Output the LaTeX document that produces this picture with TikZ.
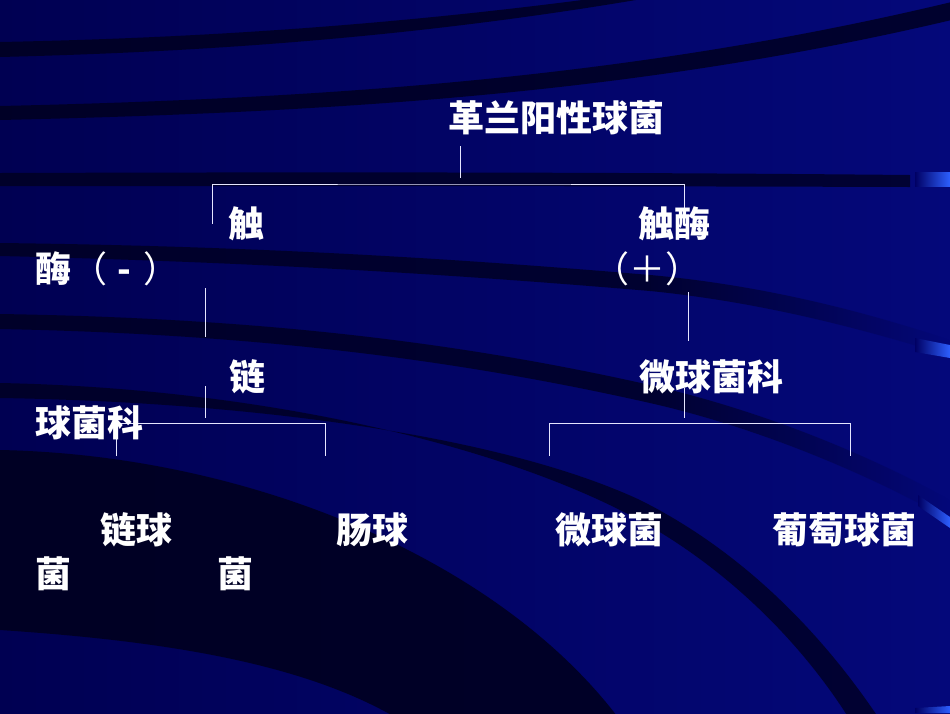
\documentclass[tikz,border=0pt]{standalone}
\usepackage{fontspec}
\usetikzlibrary{fadings}
\newfontfamily\cjk{Noto Sans CJK SC}
\definecolor{slidebg}{RGB}{0,0,100}
\definecolor{slideleft}{RGB}{0,0,82}
\definecolor{slideright}{RGB}{4,8,122}
\definecolor{slidedark}{RGB}{0,0,28}
\definecolor{slideblue}{RGB}{45,95,255}

\begin{document}
\begin{tikzpicture}[x=1pt, y=-1pt,
    taxon/.style={anchor=base west, inner sep=0pt, outer sep=0pt, text=white, font=\cjk\bfseries\fontsize{36}{45}\selectfont},
    branch/.style={draw=white!90!blue, line width=1pt},
    swoosh/.style={fill=slidedark, opacity=#1},
    tail/.style={fill=slidedark, opacity=#1, path fading=east},
    glint/.style={left color=slidebg, right color=slideblue, draw=none}
]
    % 背景
    \useasboundingbox (0,0) rectangle (950,713);
    \shade[left color=slideleft, right color=slideright] (0,0) rectangle (950,713);
    \fill[swoosh=0.8] (0,42) .. controls (200,38) and (400,25) .. (620,-5) -- (665,-5) .. controls (420,38) and (200,52) .. (0,57) -- cycle;
    \fill[swoosh=0.8] (0,106) .. controls (350,98) and (650,75) .. (960,0) -- (960,18) .. controls (650,92) and (350,112) .. (0,120) -- cycle;
    \fill[swoosh=0.75] (0,173) .. controls (300,172) and (600,172) .. (910,175) -- (910,187) .. controls (600,186) and (300,186) .. (0,186) -- cycle;
    \fill[swoosh=0.75] (0,243) .. controls (250,246) and (450,258) .. (650,275) -- (650,291) .. controls (450,274) and (250,262) .. (0,256) -- cycle;
    \fill[tail=0.75] (650,275) .. controls (760,285) and (860,310) .. (950,340) -- (950,356) .. controls (860,328) and (760,302) .. (650,291) -- cycle;
    \fill[swoosh=0.75] (0,314) .. controls (250,318) and (450,340) .. (650,385) -- (650,403) .. controls (450,358) and (250,334) .. (0,329) -- cycle;
    \fill[tail=0.75] (650,385) .. controls (760,410) and (870,455) .. (950,500) -- (950,520) .. controls (870,475) and (760,428) .. (650,403) -- cycle;
    \fill[swoosh=0.75] (0,383) .. controls (250,388) and (480,440) .. (620,510) .. controls (720,560) and (800,640) .. (850,720) -- (880,720) .. controls (820,630) and (740,550) .. (640,500) .. controls (500,435) and (250,402) .. (0,398) -- cycle;
    \fill[swoosh=0.85] (0,450) .. controls (250,455) and (500,560) .. (620,720) -- (400,720) .. controls (300,660) and (150,640) .. (0,630) -- cycle;
    \shade[glint] (915,172) rectangle (950,186);
    \shade[glint] (915,338) -- (950,345) -- (950,358) -- (915,352) -- cycle;
    \shade[glint] (918,495) -- (950,517) -- (950,528) -- (918,506) -- cycle;
    \shade[glint] (915,708) -- (950,706) -- (950,713) -- (915,713) -- cycle;

    % 连接点
    \coordinate (rootTop) at (460,146);
    \coordinate (rootBar) at (460,184);
    \coordinate (negFork) at (212,224);
    \coordinate (posFork) at (684,215);
    \coordinate (negTop) at (205.5,288);
    \coordinate (negEnd) at (205.5,337);
    \coordinate (posTop) at (688.5,292);
    \coordinate (posEnd) at (688.5,341);
    \coordinate (strTop) at (205.5,386);
    \coordinate (strBar) at (205.5,423.5);
    \coordinate (strL) at (116,456);
    \coordinate (strR) at (325,456);
    \coordinate (micTop) at (684,388);
    \coordinate (micBar) at (684,423.5);
    \coordinate (micL) at (549,456);
    \coordinate (micR) at (850,456);

    % 连线
    \draw[branch] (rootTop) -- ([yshift=6pt]rootBar);
    \draw[branch] (negFork) |- (rootBar) -| (posFork);
    \draw[branch] (negTop) -- (negEnd);
    \draw[branch] (posTop) -- (posEnd);
    \draw[branch] (strTop) -- ([yshift=5.5pt]strBar);
    \draw[branch] (strL) |- (strBar) -| (strR);
    \draw[branch] (micTop) -- ([yshift=5.5pt]micBar);
    \draw[branch] (micL) |- (micBar) -| (micR);

    % 文字
    \node[taxon] (gram) at (448,131) {革兰阳性球菌};
    \node[taxon] (negA) at (228,237) {触};
    \node[taxon] (negB) at (35.5,282) {酶{\mdseries（}\hspace{10pt}-\hspace{12pt}{\mdseries）}};
    \node[taxon] (posA) at (638.5,237) {触酶};
    \node[taxon] (posB) at (593,282) {\mdseries（＋）};
    \node[taxon] (strepA) at (229,390) {链};
    \node[taxon] (strepB) at (35.5,436) {球菌科};
    \node[taxon] (micro) at (639,390) {微球菌科};
    \node[taxon] (streptoA) at (100.5,543) {链球};
    \node[taxon] (streptoB) at (35.5,587) {菌};
    \node[taxon] (enteroA) at (336.5,543) {肠球};
    \node[taxon] (enteroB) at (217.5,587) {菌};
    \node[taxon] (micrococcus) at (555.5,543) {微球菌};
    \node[taxon] (staph) at (772.5,543) {葡萄球菌};
\end{tikzpicture}
\end{document}
